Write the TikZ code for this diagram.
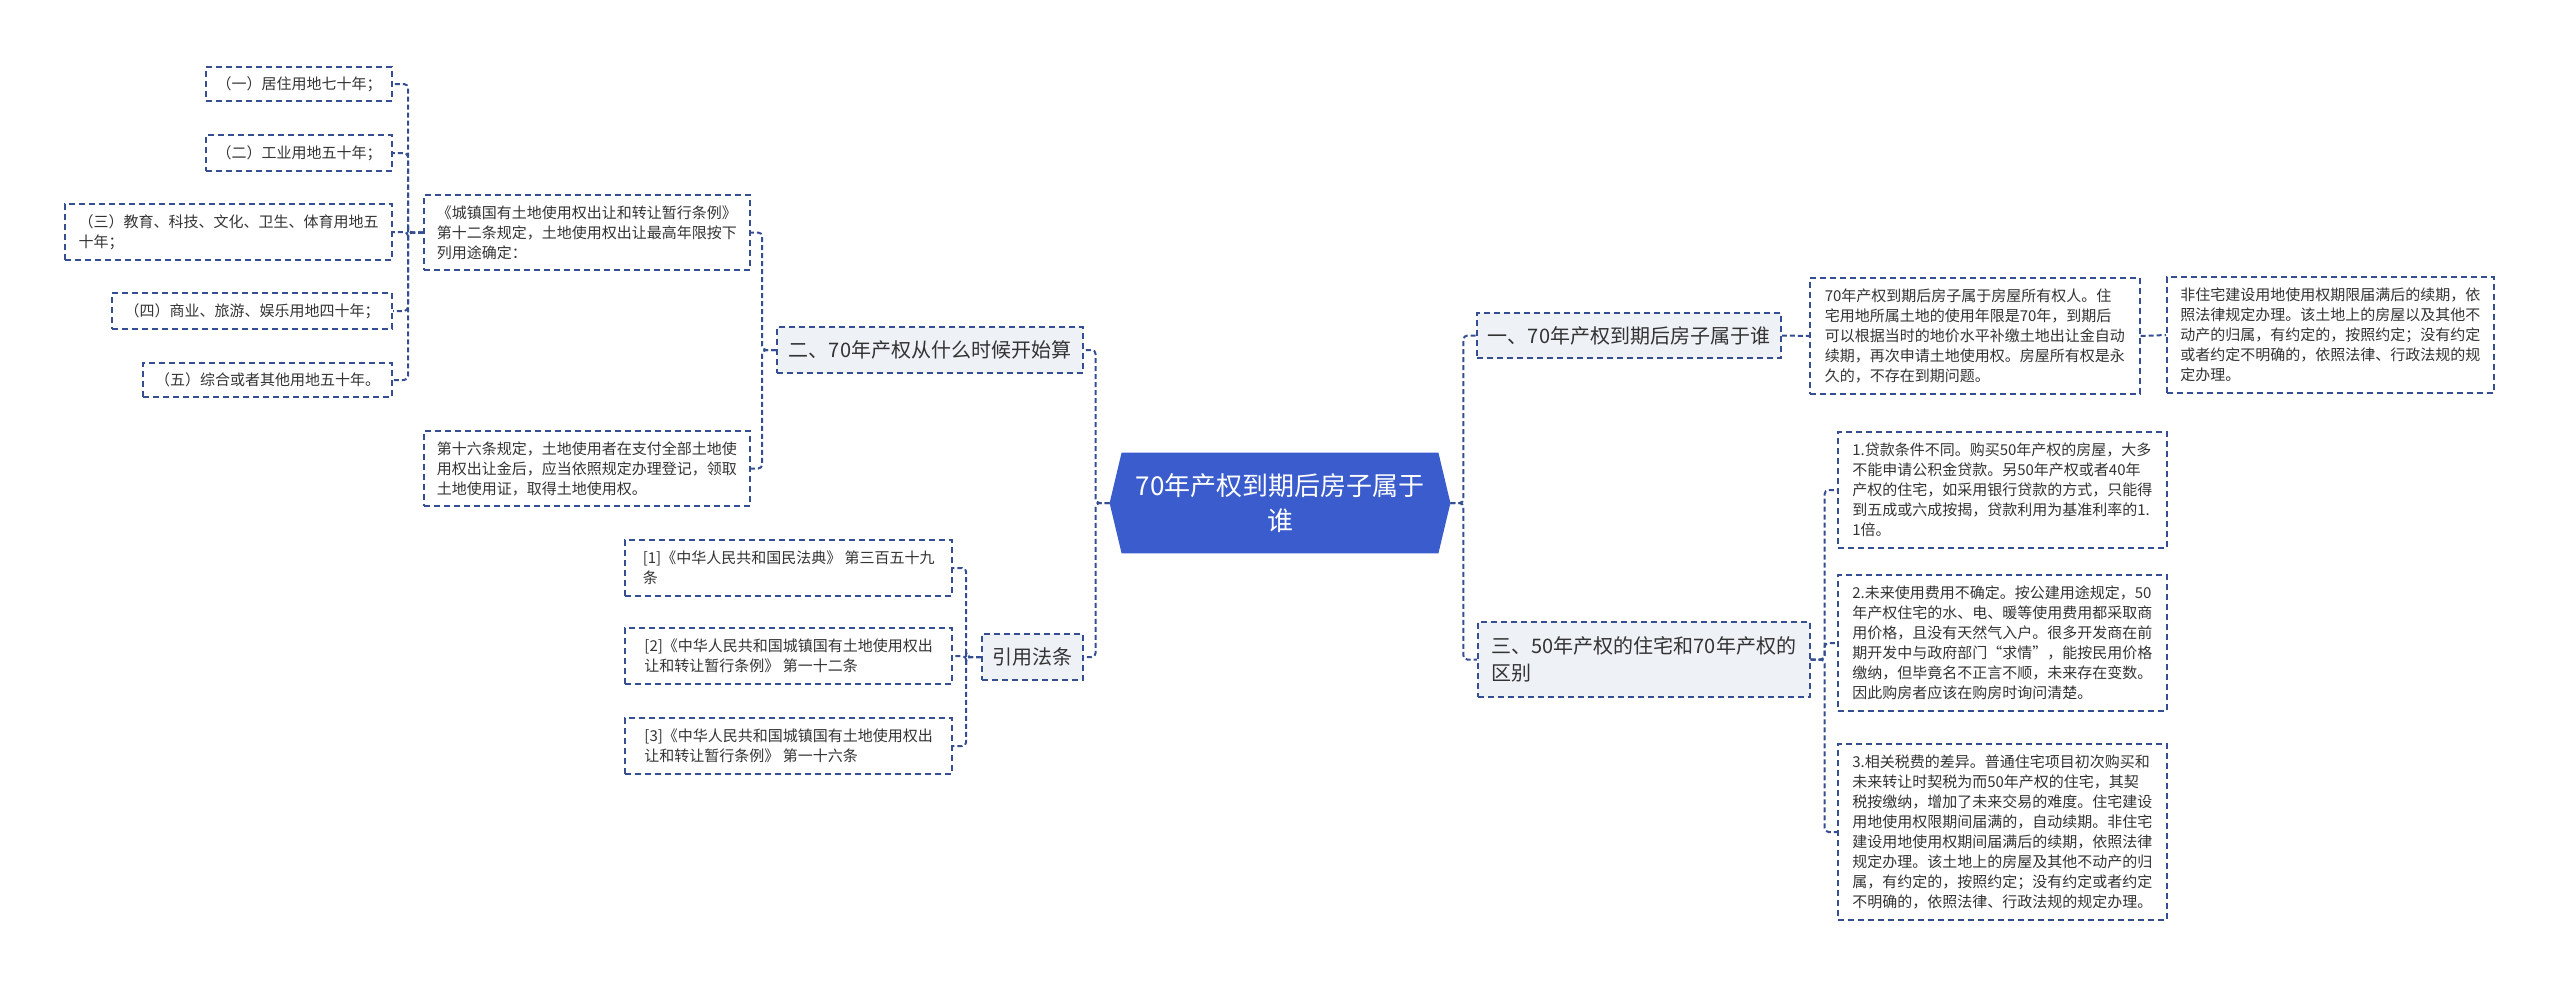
\documentclass[tikz,border=0pt]{standalone}
\usepackage{fontspec}
\setmainfont{Noto Sans CJK SC}
\usepackage{tikz}
\usetikzlibrary{calc}
\definecolor{mmline}{RGB}{52,78,145}
\definecolor{mmroot}{RGB}{58,92,204}
\definecolor{mmfill}{RGB}{238,241,246}
\definecolor{mmtext}{RGB}{51,51,51}
\pgfdeclarelayer{background}
\pgfsetlayers{background,main}

\begin{document}
\begin{tikzpicture}[x=0.5pt,y=-0.5pt,
  leafbox/.style={draw=mmline,line width=0.8pt,dash pattern=on 3pt off 2pt,text=mmtext,
    font=\fontsize{7.5pt}{10pt}\selectfont,align=left,inner sep=2pt},
  branchbox/.style={leafbox,fill=mmfill,font=\fontsize{10pt}{13.5pt}\selectfont},
  boxsize/.style 2 args={minimum width=#1,minimum height=#2},
  rootnode/.style={text=white,font=\fontsize{13pt}{17.5pt}\selectfont,align=center,
    minimum width=170pt,minimum height=50pt,inner sep=0pt},
  link/.style={draw=mmline,line width=1pt,dash pattern=on 2.5pt off 1.5pt,rounded corners=2pt}]
  \useasboundingbox (0,0) rectangle (2560,987);
  % Centre topic
  \node[rootnode] (root) at (1280,503) {70年产权到期后房子属于\\谁};
  \begin{pgfonlayer}{background}
    \fill[mmroot] ($(root.north west)+(12,0)$) -- (root.west) -- ($(root.south west)+(12,0)$)
      -- ($(root.south east)+(-12,0)$) -- (root.east) -- ($(root.north east)+(-12,0)$) -- cycle;
  \end{pgfonlayer}
  % Left branches
  \node[branchbox,boxsize={153pt}{23pt}] (b2) at (930,350) {二、70年产权从什么时候开始算};
  \node[branchbox,boxsize={50.5pt}{23pt}] (b4) at (1032.5,657) {引用法条};
  \node[leafbox,boxsize={163pt}{37.5pt},anchor=west] (lm1) at (423,232.5)
    {《城镇国有土地使用权出让和转让暂行条例》\\第十二条规定，土地使用权出让最高年限按下\\列用途确定：};
  \node[leafbox,boxsize={163pt}{37.5pt},anchor=west] (lm2) at (423,468.5)
    {第十六条规定，土地使用者在支付全部土地使\\用权出让金后，应当依照规定办理登记，领取\\土地使用证，取得土地使用权。};
  \node[leafbox,boxsize={93pt}{17pt},anchor=east] (lu1) at (393,84) {（一）居住用地七十年；};
  \node[leafbox,boxsize={93pt}{18pt},anchor=east] (lu2) at (393,153) {（二）工业用地五十年；};
  \node[leafbox,boxsize={163.5pt}{28pt},anchor=east] (lu3) at (393,232) {（三）教育、科技、文化、卫生、体育用地五\\十年；};
  \node[leafbox,boxsize={140pt}{18pt},anchor=east] (lu4) at (393,311) {（四）商业、旅游、娱乐用地四十年；};
  \node[leafbox,boxsize={124.5pt}{17pt},anchor=east] (lu5) at (393,380) {（五）综合或者其他用地五十年。};
  \node[leafbox,boxsize={163.5pt}{28pt},anchor=east] (r1) at (953,568) {[1]《中华人民共和国民法典》 第三百五十九\\条};
  \node[leafbox,boxsize={163.5pt}{28pt},anchor=east] (r2) at (953,656) {[2]《中华人民共和国城镇国有土地使用权出\\让和转让暂行条例》 第一十二条};
  \node[leafbox,boxsize={163.5pt}{28pt},anchor=east] (r3) at (953,746) {[3]《中华人民共和国城镇国有土地使用权出\\让和转让暂行条例》 第一十六条};
  % Right branches
  \node[branchbox,boxsize={152pt}{22.5pt}] (b1) at (1629,335.5) {一、70年产权到期后房子属于谁};
  \node[branchbox,boxsize={166pt}{37.5pt},anchor=west] (b3) at (1477,659.5) {三、50年产权的住宅和70年产权的\\区别};
  \node[leafbox,boxsize={165pt}{58pt},anchor=west] (t1) at (1809,336)
    {70年产权到期后房子属于房屋所有权人。住\\宅用地所属土地的使用年限是70年，到期后\\可以根据当时的地价水平补缴土地出让金自动\\续期，再次申请土地使用权。房屋所有权是永\\久的，不存在到期问题。};
  \node[leafbox,boxsize={163.5pt}{58pt},anchor=west] (t2) at (2166,335)
    {非住宅建设用地使用权期限届满后的续期，依\\照法律规定办理。该土地上的房屋以及其他不\\动产的归属，有约定的，按照约定；没有约定\\或者约定不明确的，依照法律、行政法规的规\\定办理。};
  \node[leafbox,boxsize={164.5pt}{58pt},anchor=west] (s1) at (1837,490)
    {1.贷款条件不同。购买50年产权的房屋，大多\\不能申请公积金贷款。另50年产权或者40年\\产权的住宅，如采用银行贷款的方式，只能得\\到五成或六成按揭，贷款利用为基准利率的1.\\1倍。};
  \node[leafbox,boxsize={164.5pt}{68pt},anchor=west] (s2) at (1837,643)
    {2.未来使用费用不确定。按公建用途规定，50\\年产权住宅的水、电、暖等使用费用都采取商\\用价格，且没有天然气入户。很多开发商在前\\期开发中与政府部门“求情”，能按民用价格\\缴纳，但毕竟名不正言不顺，未来存在变数。\\因此购房者应该在购房时询问清楚。};
  \node[leafbox,boxsize={164.5pt}{88pt},anchor=west] (s3) at (1837,832)
    {3.相关税费的差异。普通住宅项目初次购买和\\未来转让时契税为而50年产权的住宅，其契\\税按缴纳，增加了未来交易的难度。住宅建设\\用地使用权限期间届满的，自动续期。非住宅\\建设用地使用权期间届满后的续期，依照法律\\规定办理。该土地上的房屋及其他不动产的归\\属，有约定的，按照约定；没有约定或者约定\\不明确的，依照法律、行政法规的规定办理。};
  % Connectors, left side (drawn from the parent so the dashes line up)
  \draw[link] (root.west) -- ++(-14,0) |- (b2.east);
  \draw[link] (root.west) -- ++(-14,0) |- (b4.east);
  \draw[link] (b2.west) -- ++(-14,0) |- (lm1.east);
  \draw[link] (b2.west) -- ++(-14,0) |- (lm2.east);
  \draw[link] (lm1.west) -- ++(-15,0) |- (lu1.east);
  \draw[link] (lm1.west) -- ++(-15,0) |- (lu2.east);
  \draw[link] (lm1.west) -- ++(-15,0) |- (lu3.east);
  \draw[link] (lm1.west) -- ++(-15,0) |- (lu4.east);
  \draw[link] (lm1.west) -- ++(-15,0) |- (lu5.east);
  \draw[link] (b4.west) -- ++(-15,0) |- (r1.east);
  \draw[link] (b4.west) -- ++(-15,0) |- (r2.east);
  \draw[link] (b4.west) -- ++(-15,0) |- (r3.east);
  % Connectors, right side
  \draw[link] (root.east) -- ++(13,0) |- (b1.west);
  \draw[link] (root.east) -- ++(13,0) |- (b3.west);
  \draw[link] (b1.east) -- (t1.west);
  \draw[link] (t1.east) -- (t2.west);
  \draw[link] (b3.east) -- ++(14,0) |- (s1.west);
  \draw[link] (b3.east) -- ++(14,0) |- (s2.west);
  \draw[link] (b3.east) -- ++(14,0) |- (s3.west);
\end{tikzpicture}
\end{document}
